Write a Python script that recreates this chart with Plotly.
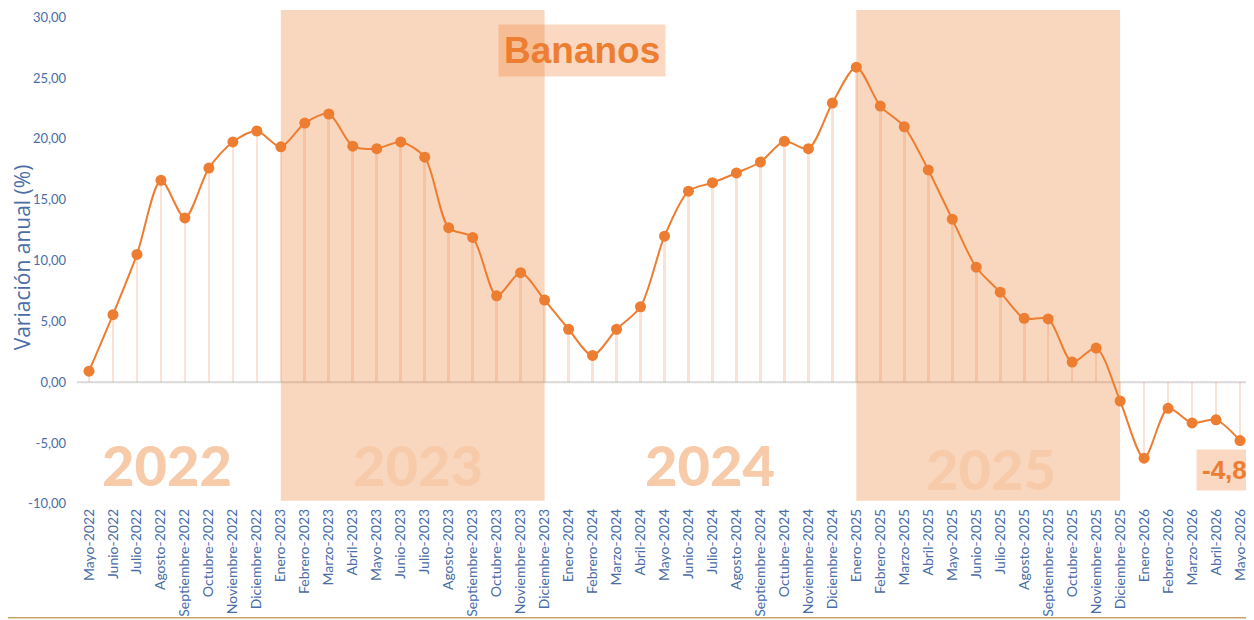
import plotly.graph_objects as go

months = ["Mayo-2022","Junio-2022","Julio-2022","Agosto-2022","Septiembre-2022","Octubre-2022",
          "Noviembre-2022","Diciembre-2022","Enero-2023","Febrero-2023","Marzo-2023","Abril-2023",
          "Mayo-2023","Junio-2023","Julio-2023","Agosto-2023","Septiembre-2023","Octubre-2023",
          "Noviembre-2023","Diciembre-2023","Enero-2024","Febrero-2024","Marzo-2024","Abril-2024",
          "Mayo-2024","Junio-2024","Julio-2024","Agosto-2024","Septiembre-2024","Octubre-2024",
          "Noviembre-2024","Diciembre-2024","Enero-2025","Febrero-2025","Marzo-2025","Abril-2025",
          "Mayo-2025","Junio-2025","Julio-2025","Agosto-2025","Septiembre-2025","Octubre-2025",
          "Noviembre-2025","Diciembre-2025","Enero-2026","Febrero-2026","Marzo-2026","Abril-2026",
          "Mayo-2026"]
values = [0.9, 5.55, 10.5, 16.6, 13.5, 17.6,
          19.75, 20.65, 19.35, 21.3, 22.05, 19.4,
          19.2, 19.75, 18.5, 12.7, 11.9, 7.1,
          9.0, 6.75, 4.35, 2.2, 4.35, 6.2,
          12.0, 15.7, 16.4, 17.2, 18.1, 19.8,
          19.2, 22.95, 25.9, 22.7, 21.0, 17.45,
          13.4, 9.45, 7.4, 5.25, 5.2, 1.65,
          2.8, -1.55, -6.25, -2.15, -3.35, -3.1,
          -4.8]
year_labels = ["2022", "2023", "2024", "2025"]
year_label_x = [3.25, 13.7, 25.9, 37.6]
year_label_y = [-6.75, -6.75, -6.75, -7.1]
shade_spans = [("Enero-2023", "Diciembre-2023"), ("Enero-2025", "Diciembre-2025")]
yticks = [-10, -5, 0, 5, 10, 15, 20, 25, 30]
ytick_text = ["-10,00", "-5,00", "0,00", "5,00", "10,00", "15,00", "20,00", "25,00", "30,00"]
title_text = "Bananos"
last_label = "-4,8"

ORANGE = "#ED7D31"
BLUE = "#4A6DA7"
idx = list(range(len(months)))

fig = go.Figure()

# stems
fig.add_trace(go.Bar(x=idx, y=values, width=0.11,
                     marker=dict(color="rgba(237,125,49,0.22)", line=dict(width=0)),
                     hoverinfo="skip", showlegend=False))
# line
fig.add_trace(go.Scatter(x=idx, y=values, mode="lines+markers",
                         line=dict(color=ORANGE, width=2, shape="spline", smoothing=0.8),
                         marker=dict(color=ORANGE, size=11),
                         showlegend=False))

for a, b in shade_spans:
    fig.add_shape(type="rect", xref="x", yref="y",
                  x0=months.index(a), x1=months.index(b), y0=-9.75, y1=30.6,
                  fillcolor="rgba(237,125,49,0.31)", line=dict(width=0), layer="below")

fig.add_hline(y=0, line=dict(color="#D9D9D9", width=2), layer="below")

for t, x, y in zip(year_labels, year_label_x, year_label_y):
    fig.add_annotation(x=x, y=y, xref="x", yref="y", text=t, showarrow=False,
                       font=dict(family="Lato", size=56, color="#F7CBAA", weight=900))

fig.add_annotation(x=20.55, y=27.3, xref="x", yref="y", text="<b>" + title_text + "</b>",
                   showarrow=False, font=dict(family="Liberation Sans, Arial", size=37, color=ORANGE),
                   bgcolor="rgba(237,125,49,0.3)", borderpad=5)

fig.add_annotation(x=46.15, y=-7.25, xref="x", yref="y", text="<b>" + last_label + "</b>",
                   showarrow=False, xanchor="left",
                   font=dict(family="Liberation Sans, Arial", size=26, color=ORANGE),
                   bgcolor="rgba(237,125,49,0.3)", borderpad=5)

# bottom frame line
fig.add_shape(type="line", xref="paper", yref="paper", x0=-0.1, x1=1.1, y0=-0.228, y1=-0.228,
              line=dict(color="#C9A468", width=1.5))

fig.update_layout(
    width=1246, height=612,
    margin=dict(l=69, r=2, t=2, b=115),
    plot_bgcolor="white", paper_bgcolor="white",
    bargap=0,
    xaxis=dict(range=[-0.5, 48.5], tickmode="array", tickvals=idx, ticktext=months,
               tickangle=-90, showgrid=False, zeroline=False, showline=False, automargin=False,
               tickfont=dict(family="Lato", size=14, color=BLUE), ticks=""),
    yaxis=dict(range=[-10.1, 30.6], tickmode="array", tickvals=yticks, ticktext=ytick_text,
               showgrid=False, zeroline=False, showline=False, automargin=False,
               ticklabelstandoff=10,
               tickfont=dict(family="Lato", size=13, color=BLUE), ticks="",
               title=dict(text="Variación anual (%)", font=dict(family="Open Sans", size=21, color=BLUE),
                          standoff=2)),
)

fig.write_html("out.html")
